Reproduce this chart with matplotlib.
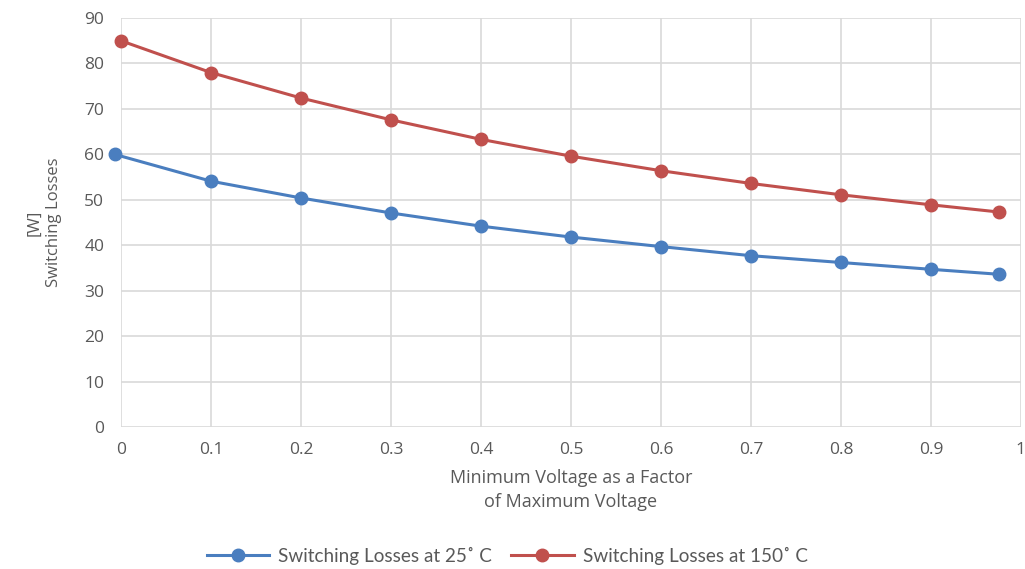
import numpy as np
import matplotlib
matplotlib.use('Agg')
import matplotlib.pyplot as plt

plt.rcParams['font.family'] = ['Open Sans', 'DejaVu Sans']

# data
x_25 = [-0.007, 0.1, 0.2, 0.3, 0.4, 0.5, 0.6, 0.7, 0.8, 0.9, 0.976]
loss_25 = [60.0, 54.1, 50.4, 47.1, 44.2, 41.8, 39.7, 37.7, 36.2, 34.7, 33.6]
x_150 = [0.0, 0.1, 0.2, 0.3, 0.4, 0.5, 0.6, 0.7, 0.8, 0.9, 0.976]
loss_150 = [85.0, 78.0, 72.4, 67.6, 63.3, 59.6, 56.4, 53.6, 51.1, 48.9, 47.3]
xticks = [0, 0.1, 0.2, 0.3, 0.4, 0.5, 0.6, 0.7, 0.8, 0.9, 1]
xticklabels = ['0', '0.1', '0.2', '0.3', '0.4', '0.5', '0.6', '0.7', '0.8', '0.9', '1']
yticks = [0, 10, 20, 30, 40, 50, 60, 70, 80, 90]

blue = '#4a7ebf'
red = '#c0504d'
grid = '#d9d9d9'
txt = '#595959'

fig = plt.figure(figsize=(10.25, 5.69), dpi=100)
ax = fig.add_axes([0.118, 0.2496, 0.878, 0.7187])

l1, = ax.plot(x_25, loss_25, color=blue, lw=2.2, marker='o', ms=9,
              label='Switching Losses at 25˚ C', clip_on=False, zorder=3)
l2, = ax.plot(x_150, loss_150, color=red, lw=2.2, marker='o', ms=9,
              label='Switching Losses at 150˚ C', clip_on=False, zorder=3)

ax.set_xlim(0, 1)
ax.set_ylim(0, 90)
ax.set_xticks(xticks)
ax.set_xticklabels(xticklabels)
ax.set_yticks(yticks)
ax.grid(True, color=grid, lw=1.2)
ax.set_axisbelow(True)
for s in ax.spines.values():
    s.set_visible(False)
ax.tick_params(length=0, colors=txt, labelsize=12.5)
ax.tick_params(axis='x', pad=11)
ax.tick_params(axis='y', pad=12)

ax.set_xlabel('Minimum Voltage as a Factor\nof Maximum Voltage', color=txt,
              fontsize=13, labelpad=8, linespacing=1.4)
ax.set_ylabel('[W]\nSwitching Losses', color=txt, fontsize=12, labelpad=16,
              linespacing=1.3)

leg = fig.legend(handles=[l1, l2], loc='center', bbox_to_anchor=(0.495, 0.023),
                 ncol=2, frameon=False, handlelength=3.3,
                 columnspacing=1.0, handletextpad=0.5,
                 prop={'family': ['Lato', 'DejaVu Sans'], 'size': 13.6})
for t in leg.get_texts():
    t.set_color(txt)

fig.savefig('out.png', dpi=100)
